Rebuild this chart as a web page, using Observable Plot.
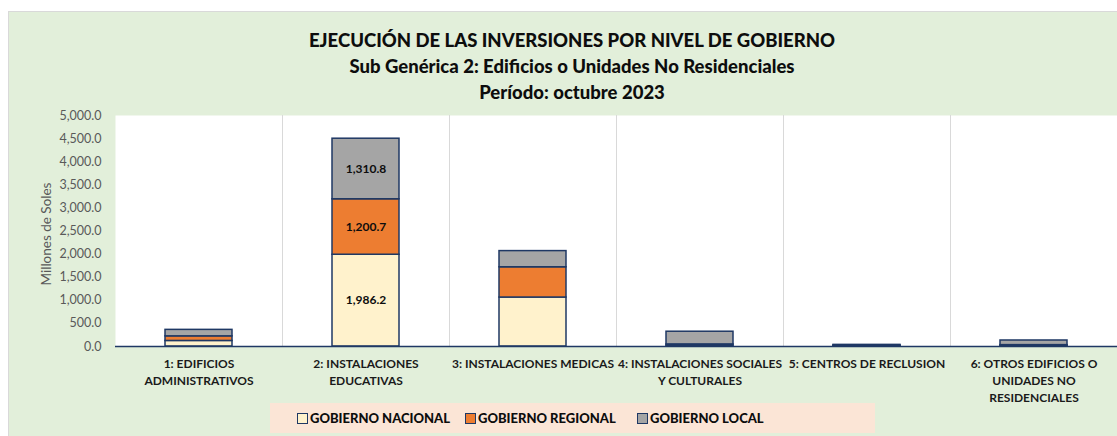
<!DOCTYPE html>
<html><head><meta charset="utf-8">
<script src="https://cdn.jsdelivr.net/npm/d3@7"></script>
<script src="https://cdn.jsdelivr.net/npm/@observablehq/plot@0.6"></script>
<style>
body{margin:0;background:#fff;font-family:Lato,"Noto Sans",sans-serif;}
#wrap{position:relative;width:1117px;height:436px;overflow:hidden;}
#panel{position:absolute;left:8px;top:11px;width:1109px;height:425px;background:#e2efda;border-top:1px solid #d9d9d9;border-left:1px solid #d9d9d9;box-sizing:border-box;}
#title{position:absolute;left:8px;width:1128px;top:27px;text-align:center;font-weight:900;font-size:18.5px;line-height:26px;color:#0d0d0d;}
#chart{position:absolute;left:0;top:0;}
#legend{position:absolute;left:270px;top:403px;width:605px;height:30px;background:#fbe5d6;font-weight:900;font-size:13px;color:#0d0d0d;}
.sw{position:absolute;top:10px;width:9px;height:9px;border:1.5px solid #1f3864;}
.lt{position:absolute;top:7px;line-height:16px;white-space:nowrap;}
</style></head>
<body>
<div id="wrap">
  <div id="panel"></div>
  <div id="title">EJECUCIÓN DE LAS INVERSIONES POR NIVEL DE GOBIERNO<br>Sub Genérica 2: Edificios o Unidades No Residenciales<br>Período: octubre 2023</div>
  <div id="chart"></div>
  <div id="legend"></div>
</div>
<script>
const categories = ["1","2","3","4","5","6"];
const categoryLabels = [
  "1: EDIFICIOS\nADMINISTRATIVOS",
  "2: INSTALACIONES\nEDUCATIVAS",
  "3: INSTALACIONES MEDICAS",
  "4: INSTALACIONES SOCIALES\nY CULTURALES",
  "5: CENTROS DE RECLUSION",
  "6: OTROS EDIFICIOS O\nUNIDADES NO\nRESIDENCIALES"
];
const series = ["GOBIERNO NACIONAL","GOBIERNO REGIONAL","GOBIERNO LOCAL"];
const colors = ["#fff2cc","#ed7d31","#a5a5a5"];
const nacional = [120, 1986.2, 1060, 20, 12, 15];
const regional = [100, 1200.7, 655, 25, 8, 15];
const local    = [140, 1310.8, 350, 275, 15, 100];
const yTicks = [0,500,1000,1500,2000,2500,3000,3500,4000,4500,5000];
const yTitle = "Millones de Soles";
const labelledCategory = "2";

const values = [nacional, regional, local];
const rows = [];
series.forEach((s, i) => categories.forEach((c, j) => rows.push({cat: c, series: s, value: values[i][j]})));

const W = 1117, ML = 115, MR = 0;
const step = (W - ML - MR) / categories.length;
const fmt = d3.format(",.1f");

const chart = Plot.plot({
  width: W, height: 436,
  marginLeft: ML, marginRight: MR, marginTop: 115, marginBottom: 90,
  style: {background: "transparent", fontFamily: "Lato, sans-serif"},
  x: {domain: categories, paddingInner: 0.6, paddingOuter: 0.3},
  y: {domain: [0, 5000]},
  color: {domain: series, range: colors},
  marks: [
    Plot.frame({fill: "white", stroke: null}),
    Plot.ruleX(categories.slice(0, -1), {x: d => d, dx: step / 2, stroke: "#d9d9d9", strokeWidth: 1}),
    Plot.axisY({ticks: yTicks, tickFormat: fmt, tickSize: 0, tickPadding: 14, fontSize: 12.5, fill: "#595959", label: null}),
    Plot.text([yTitle], {frameAnchor: "left", textAnchor: "middle", rotate: -90, dx: -69, dy: 3, fontSize: 13.5, fill: "#595959", text: d => d}),
    Plot.axisX({tickSize: 0, tickPadding: 10, fontSize: 12, fontWeight: "bold", fill: "#1a1a1a", lineHeight: 1.4,
      tickFormat: d => categoryLabels[categories.indexOf(d)], label: null}),
    Plot.barY(rows, {x: "cat", y: "value", fill: "series", stroke: "#1f3864", strokeWidth: 1.5, order: series}),
    Plot.ruleY([0], {stroke: "#1f3864", strokeWidth: 1.5}),
    Plot.text(rows, Plot.stackY({x: "cat", y: "value", z: "series", order: series,
      text: d => fmt(d.value), filter: d => d.cat === labelledCategory,
      fontWeight: "bold", fontSize: 12, fill: "#0d0d0d"}))
  ]
});
document.getElementById("chart").appendChild(chart);

const legend = document.getElementById("legend");
const legendX = [27, 195, 367];
series.forEach((s, i) => {
  const sw = document.createElement("div");
  sw.className = "sw"; sw.style.left = legendX[i] + "px"; sw.style.background = colors[i];
  const t = document.createElement("div");
  t.className = "lt"; t.style.left = (legendX[i] + 13) + "px"; t.textContent = s;
  legend.appendChild(sw); legend.appendChild(t);
});
</script>
</body></html>
